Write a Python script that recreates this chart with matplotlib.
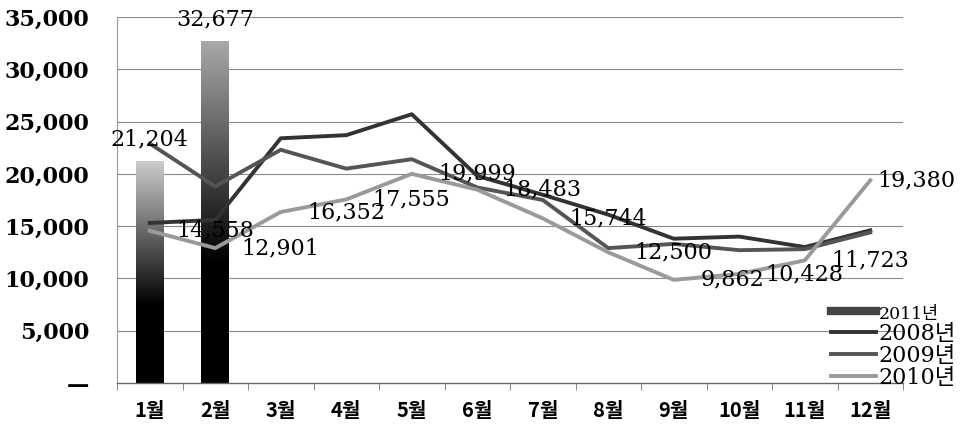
import numpy as np
import matplotlib
matplotlib.use('Agg')
import matplotlib.pyplot as plt
from matplotlib.lines import Line2D

plt.rcParams['font.family'] = ['DejaVu Serif', 'Noto Sans CJK KR']

months = ['1월', '2월', '3월', '4월', '5월', '6월', '7월', '8월', '9월', '10월', '11월', '12월']
sales_2011 = [21204, 32677]
sales_2008 = [15300, 15600, 23400, 23700, 25700, 19800, 18000, 16100, 13800, 14000, 13000, 14600]
sales_2009 = [22900, 18800, 22300, 20500, 21400, 18700, 17500, 12900, 13300, 12700, 12800, 14400]
sales_2010 = [14558, 12901, 16352, 17555, 19999, 18483, 15744, 12500, 9862, 10428, 11723, 19380]
yticks = [0, 5000, 10000, 15000, 20000, 25000, 30000, 35000]

fig = plt.figure(figsize=(9.63, 4.3), dpi=100)
ax = fig.add_axes([0.1215, 0.1093, 0.8162, 0.8512])

x = np.arange(len(months))

# gridlines
for v in yticks[1:]:
    ax.axhline(v, color='#8a8a8a', lw=0.8, zorder=0)

# 2011 bars with a vertical gradient (light top, black bottom)
bars = ax.bar(x[:len(sales_2011)], sales_2011, width=0.42, color='none', zorder=2)
tops = [0.80, 0.66]
for b, top in zip(bars, tops):
    t = np.linspace(0, 1, 200)
    grad = np.clip((t - 0.35) / 0.65, 0, 1) * top
    im = ax.imshow(grad[:, None], extent=[b.get_x(), b.get_x() + b.get_width(), 0, b.get_height()],
                   aspect='auto', cmap='gray', vmin=0, vmax=1, origin='lower', zorder=2)
    im.set_clip_path(b)

# lines
ax.plot(x, sales_2008, color='#333333', lw=2.8, zorder=3)
ax.plot(x, sales_2009, color='#555555', lw=2.8, zorder=3)
ax.plot(x, sales_2010, color='#9a9a9a', lw=2.8, zorder=3)

# data labels
for xi, v in zip(x, sales_2011):
    ax.annotate(f'{v:,}', (xi, v), xytext=(0, 8), textcoords='offset points',
                ha='center', va='bottom', fontsize=16, zorder=5)
for xi, v in zip(x, sales_2010):
    dx = 19 if xi < len(months) - 1 else 5
    ax.annotate(f'{v:,}', (xi, v), xytext=(dx, 0), textcoords='offset points',
                ha='left', va='center', fontsize=16, zorder=5, annotation_clip=False)

ax.set_xlim(-0.5, len(months) - 0.5)
ax.set_ylim(0, 35000)

ax.set_xticks(x)
ax.set_xticklabels(months, fontfamily='Noto Sans CJK KR', fontweight='black', fontsize=14.5)
ax.set_xticks(np.arange(-0.5, len(months), 1), minor=True)
ax.tick_params(axis='x', which='major', length=0, pad=12)
ax.tick_params(axis='x', which='minor', length=5, color='#777777')

ax.set_yticks(yticks)
ax.set_yticklabels(['—' if v == 0 else f'{v:,}' for v in yticks], fontweight='bold', fontsize=16)
ax.tick_params(axis='y', length=0, pad=20)

for s in ['top', 'right']:
    ax.spines[s].set_visible(False)
ax.spines['left'].set_color('#999999')
ax.spines['left'].set_linewidth(0.8)
ax.spines['bottom'].set_color('#666666')
ax.spines['bottom'].set_linewidth(1.0)

handles = [Line2D([], [], color='#444444', lw=6),
           Line2D([], [], color='#333333', lw=2.8),
           Line2D([], [], color='#555555', lw=2.8),
           Line2D([], [], color='#9a9a9a', lw=2.8)]
leg = fig.legend(handles, ['2011년', '2008년', '2009년', '2010년'], loc='lower right',
                 bbox_to_anchor=(0.993, 0.095), frameon=False, fontsize=16,
                 handlelength=2.0, handletextpad=0.15, labelspacing=0.0, borderpad=0,
                 borderaxespad=0)
leg.get_texts()[0].set_fontsize(12.5)

fig.savefig('out.png', dpi=100)
